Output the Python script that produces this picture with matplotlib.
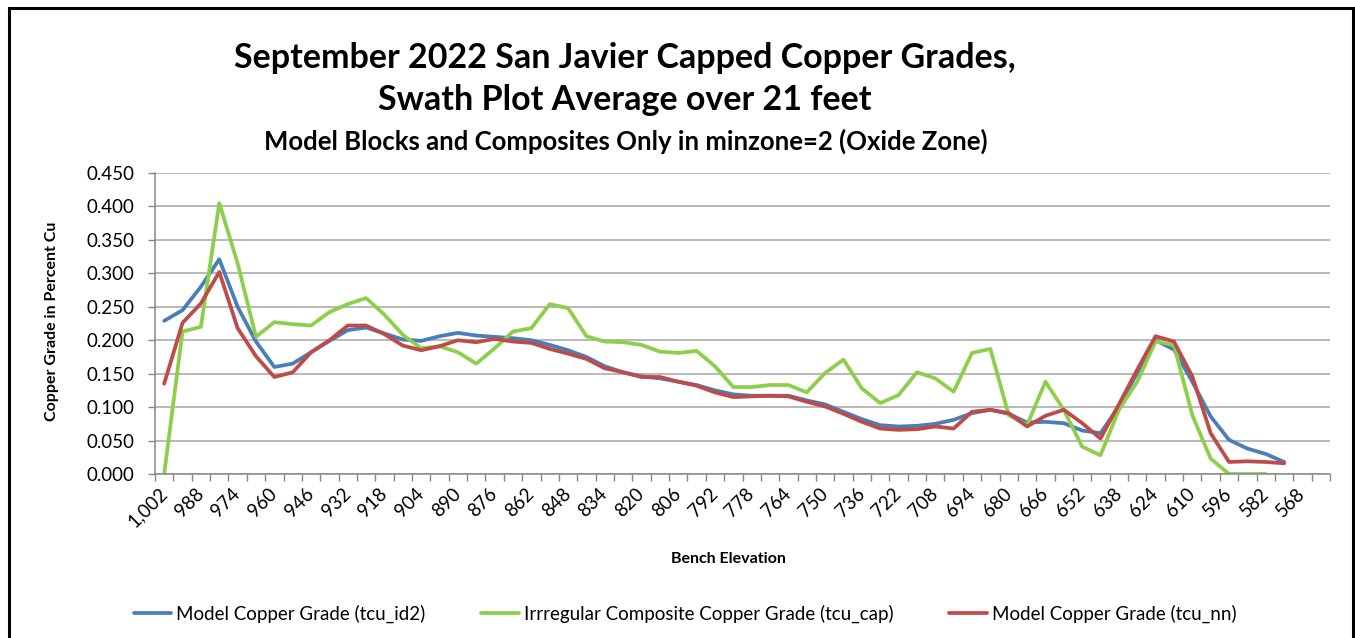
import numpy as np
import matplotlib
matplotlib.use('Agg')
import matplotlib.pyplot as plt
import matplotlib.ticker as ticker
from matplotlib.patches import Rectangle

plt.rcParams['font.family'] = ['Lato', 'DejaVu Sans']

# Bench elevations, 7 ft steps from 1,002 down to 561
elevations = list(range(1002, 560, -7))

tcu_id2 = [0.229, 0.245, 0.280, 0.321, 0.250, 0.198, 0.160, 0.165, 0.182, 0.199,
           0.215, 0.219, 0.210, 0.201, 0.199, 0.206, 0.211, 0.207, 0.205, 0.203,
           0.200, 0.193, 0.185, 0.175, 0.161, 0.152, 0.146, 0.143, 0.138, 0.133,
           0.125, 0.119, 0.117, 0.117, 0.117, 0.110, 0.104, 0.093, 0.082, 0.073,
           0.071, 0.072, 0.075, 0.081, 0.091, 0.096, 0.090, 0.077, 0.078, 0.076,
           0.065, 0.061, 0.101, 0.151, 0.200, 0.186, 0.138, 0.086, 0.051, 0.038,
           0.030, 0.018]

tcu_cap = [0.000, 0.213, 0.220, 0.405, 0.315, 0.205, 0.227, 0.224, 0.222, 0.242,
           0.254, 0.263, 0.238, 0.208, 0.188, 0.191, 0.182, 0.165, 0.188, 0.213,
           0.218, 0.254, 0.248, 0.206, 0.198, 0.197, 0.193, 0.183, 0.181, 0.184,
           0.161, 0.130, 0.130, 0.133, 0.133, 0.122, 0.151, 0.171, 0.128, 0.106,
           0.118, 0.152, 0.143, 0.123, 0.181, 0.187, 0.088, 0.073, 0.138, 0.096,
           0.041, 0.028, 0.096, 0.138, 0.198, 0.193, 0.088, 0.023, 0.000, 0.000,
           0.000]

tcu_nn = [0.135, 0.226, 0.255, 0.302, 0.218, 0.176, 0.145, 0.152, 0.182, 0.200,
          0.222, 0.222, 0.209, 0.192, 0.185, 0.191, 0.200, 0.197, 0.202, 0.198,
          0.196, 0.187, 0.180, 0.172, 0.158, 0.152, 0.145, 0.145, 0.138, 0.132,
          0.122, 0.115, 0.116, 0.117, 0.116, 0.108, 0.101, 0.090, 0.078, 0.068,
          0.066, 0.067, 0.071, 0.068, 0.093, 0.096, 0.091, 0.071, 0.087, 0.096,
          0.076, 0.053, 0.104, 0.156, 0.206, 0.198, 0.146, 0.061, 0.018, 0.019,
          0.018, 0.016]

series = [
    (tcu_id2, 'Model Copper Grade (tcu_id2)', '#4A7EBB'),
    (tcu_cap, 'Irrregular Composite Copper Grade (tcu_cap)', '#8DCF4A'),
    (tcu_nn, 'Model Copper Grade (tcu_nn)', '#BE4B48'),
]

W, H = 1355, 638
fig = plt.figure(figsize=(W / 100, H / 100), dpi=100)
fig.patch.set_facecolor('white')

# outer chart frame (open at the bottom)
fig.add_artist(Rectangle((9 / W, -0.05), (1353 - 9) / W, 1.05 - 8 / H,
                         transform=fig.transFigure, fill=False,
                         edgecolor='black', linewidth=2.2))

ax = fig.add_axes([155 / W, 1 - 474 / H, (1330 - 155) / W, (474 - 173) / H])

n = len(elevations)
lines = []
for vals, lab, col in series:
    x = np.arange(len(vals))
    ln, = ax.plot(x, vals, color=col, linewidth=2.7, label=lab,
                  solid_joinstyle='round', solid_capstyle='round')
    lines.append(ln)

ax.set_xlim(-0.5, n - 0.5)
ax.set_ylim(0, 0.45)
ax.yaxis.set_major_locator(ticker.MultipleLocator(0.05))
ax.yaxis.set_major_formatter(ticker.FormatStrFormatter('%.3f'))

# tick marks on category boundaries, labels on every second category
ax.set_xticks(np.arange(-0.5, n, 1.0))
ax.set_xticklabels([])
ax.set_xticks(np.arange(0, n, 2), minor=True)
ax.set_xticklabels(['{:,}'.format(e) for e in elevations[::2]], minor=True,
                   rotation=45, ha='right', va='center', rotation_mode='anchor',
                   fontsize=13.5)
ax.tick_params(axis='x', which='major', length=5, color='#868686', width=1)
ax.tick_params(axis='x', which='minor', length=0, pad=12)
ax.tick_params(axis='y', length=5, color='#868686', width=1, labelsize=13.5, pad=10)

ax.grid(axis='y', color='#A6A6A6', linewidth=1.1)
ax.set_axisbelow(True)
for s in ['top', 'right']:
    ax.spines[s].set_visible(False)
for s in ['left', 'bottom']:
    ax.spines[s].set_color('#868686')
    ax.spines[s].set_linewidth(1.1)

fig.text(52 / W, 1 - 321 / H, 'Copper Grade in Percent Cu', rotation=90,
         ha='center', va='center', fontsize=11.5, fontweight='bold')
fig.text(728 / W, 1 - 559 / H, 'Bench Elevation', ha='center', va='center',
         fontsize=11.5, fontweight='bold')

fig.text(625 / W, 1 - 58 / H, 'September 2022 San Javier Capped Copper Grades,',
         ha='center', va='center', fontsize=24.5, fontweight='bold')
fig.text(625 / W, 1 - 100 / H, 'Swath Plot Average over 21 feet',
         ha='center', va='center', fontsize=24.5, fontweight='bold')
fig.text(626 / W, 1 - 141 / H,
         'Model Blocks and Composites Only in minzone=2 (Oxide Zone)',
         ha='center', va='center', fontsize=18.5, fontweight='bold')

fig.legend(handles=lines, loc='center', bbox_to_anchor=(685 / W, 1 - 614 / H),
           ncol=3, frameon=False, fontsize=13.5, handlelength=2.0,
           handletextpad=0.25, columnspacing=3.0)

fig.savefig('out.png', dpi=100)
